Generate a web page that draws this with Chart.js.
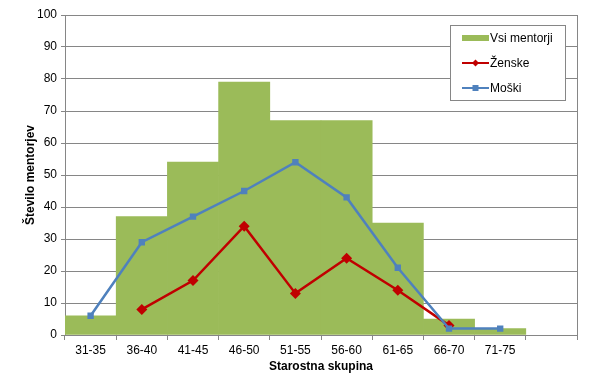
<!DOCTYPE html>
<html>
<head>
<meta charset="utf-8">
<script src="https://cdn.jsdelivr.net/npm/chart.js@4/dist/chart.umd.min.js"></script>
<style>
  html, body { margin: 0; padding: 0; background: #fff; }
  #wrap { width: 592px; height: 390px; }
</style>
</head>
<body>
<div id="wrap"><canvas id="chart"></canvas></div>
<script>
// age groups (last slot is empty, like in the original)
var categories = ['31-35', '36-40', '41-45', '46-50', '51-55', '56-60', '61-65', '66-70', '71-75', ''];
var vsiMentorji = [6, 37, 54, 79, 67, 67, 35, 5, 2, null];
var zenske = [null, 8, 17, 34, 13, 24, 14, 3, null, null];
var moski = [6, 29, 37, 45, 54, 43, 21, 2, 2, null];
var yTicks = [0, 10, 20, 30, 40, 50, 60, 70, 80, 90, 100];

var FONT = 'Liberation Sans, Arial, sans-serif';
var GRID = '#868686';

// plot border + boxed legend inside the plot area
var boxPlugin = {
    id: 'boxLegend',
    afterDraw: function (chart) {
        var ctx = chart.ctx, a = chart.chartArea;
        ctx.save();
        ctx.strokeStyle = GRID;
        ctx.lineWidth = 1;
        ctx.beginPath();
        ctx.moveTo(Math.round(a.right) + 0.5, a.top);
        ctx.lineTo(Math.round(a.right) + 0.5, a.bottom);
        ctx.stroke();

        // legend box
        var bx = 450.5, by = 25.5, bw = 115, bh = 75;
        ctx.fillStyle = '#fff';
        ctx.fillRect(bx, by, bw, bh);
        ctx.strokeStyle = GRID;
        ctx.strokeRect(bx, by, bw, bh);

        var ds = chart.data.datasets;
        ctx.font = '12px ' + FONT;
        ctx.textBaseline = 'middle';
        ctx.textAlign = 'left';
        for (var i = 0; i < ds.length; i++) {
            var y = 38 + i * 25;
            var x0 = 462, x1 = 489;
            if (ds[i].type === 'bar') {
                ctx.fillStyle = ds[i].backgroundColor;
                ctx.fillRect(x0, y - 3, x1 - x0, 6);
            } else {
                ctx.strokeStyle = ds[i].borderColor;
                ctx.lineWidth = 2;
                ctx.beginPath();
                ctx.moveTo(x0, y);
                ctx.lineTo(x1, y);
                ctx.stroke();
                ctx.fillStyle = ds[i].borderColor;
                var m = (x0 + x1) / 2;
                if (ds[i].pointStyle === 'rect') {
                    ctx.fillRect(m - 3, y - 3, 6, 6);
                } else {
                    ctx.beginPath();
                    ctx.moveTo(m, y - 3.5);
                    ctx.lineTo(m + 3.5, y);
                    ctx.lineTo(m, y + 3.5);
                    ctx.lineTo(m - 3.5, y);
                    ctx.closePath();
                    ctx.fill();
                }
            }
            ctx.fillStyle = '#000';
            ctx.fillText(ds[i].label, 490, y + 1);
        }
        ctx.restore();
    }
};

new Chart(document.getElementById('chart'), {
    data: {
        labels: categories,
        datasets: [
            {
                type: 'bar',
                label: 'Vsi mentorji',
                data: vsiMentorji,
                backgroundColor: '#9BBB59',
                barPercentage: 1.0,
                categoryPercentage: 1.0,
                borderWidth: 0,
                order: 3
            },
            {
                type: 'line',
                label: 'Ženske',
                data: zenske,
                borderColor: '#C00000',
                backgroundColor: '#C00000',
                borderWidth: 2.5,
                pointStyle: 'rectRot',
                pointRadius: 5.5,
                pointBorderWidth: 0,
                spanGaps: false,
                order: 2
            },
            {
                type: 'line',
                label: 'Moški',
                data: moski,
                borderColor: '#4F81BD',
                backgroundColor: '#4F81BD',
                borderWidth: 2.5,
                pointStyle: 'rect',
                pointRadius: 4.5,
                pointBorderWidth: 0,
                order: 1
            }
        ]
    },
    options: {
        responsive: true,
        maintainAspectRatio: false,
        animation: false,
        layout: { padding: { top: 15, right: 15, left: 0, bottom: 0 } },
        plugins: {
            legend: { display: false },
            tooltip: { enabled: false }
        },
        scales: {
            x: {
                offset: true,
                grid: {
                    display: true,
                    offset: true,
                    drawOnChartArea: false,
                    tickLength: 5,
                    color: GRID
                },
                border: { color: GRID },
                ticks: {
                    color: '#000',
                    font: { family: FONT, size: 12 },
                    maxRotation: 0,
                    autoSkip: false,
                    padding: 3
                },
                title: {
                    display: true,
                    text: 'Starostna skupina',
                    color: '#000',
                    font: { family: FONT, size: 12, weight: 'bold' },
                    padding: { top: 2, bottom: 16 }
                },
                afterFit: function (s) { s.height = 55; }
            },
            y: {
                min: 0,
                max: 100,
                afterBuildTicks: function (s) {
                    s.ticks = yTicks.map(function (v) { return { value: v }; });
                },
                grid: {
                    color: GRID,
                    tickLength: 4
                },
                border: { color: GRID },
                ticks: {
                    color: '#000',
                    font: { family: FONT, size: 12 },
                    padding: 4
                },
                title: {
                    display: true,
                    text: 'Število mentorjev',
                    color: '#000',
                    font: { family: FONT, size: 12, weight: 'bold' },
                    padding: { top: 23, bottom: 4 }
                },
                afterFit: function (s) { s.width = 65; }
            }
        }
    },
    plugins: [boxPlugin]
});
</script>
</body>
</html>
